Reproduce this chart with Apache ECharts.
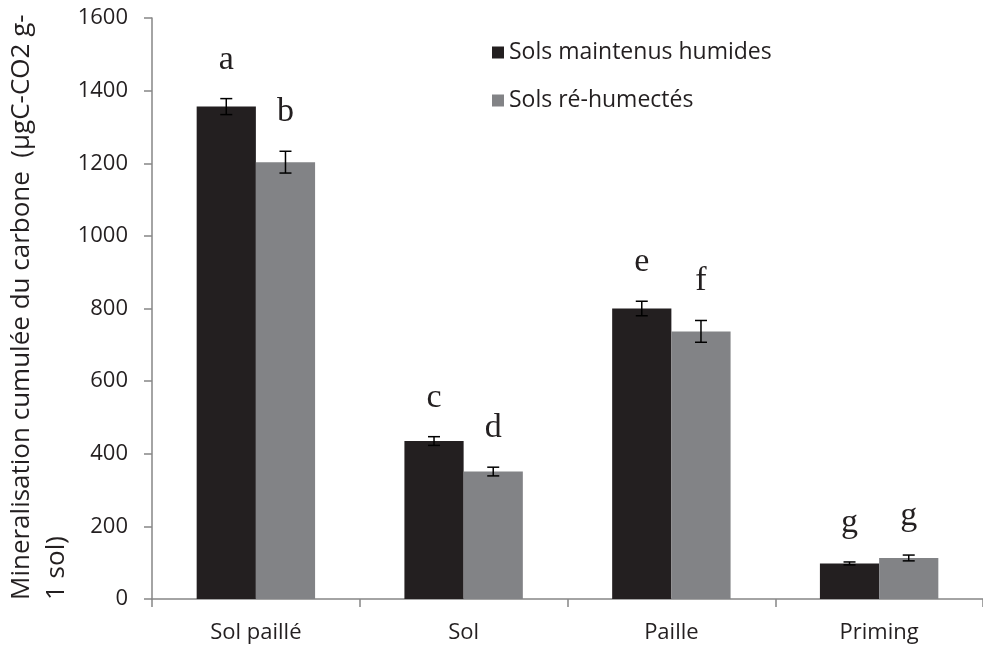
<!DOCTYPE html>
<html>
<head>
<meta charset="utf-8">
<script src="https://cdn.jsdelivr.net/npm/echarts@6/dist/echarts.min.js"></script>
<style>
  html, body { margin: 0; padding: 0; background: #fff; }
  #chart { width: 983px; height: 649px; }
</style>
</head>
<body>
<div id="chart"></div>
<script>
// données
const categories = ['Sol paillé', 'Sol', 'Paille', 'Priming'];
const humides = [1356, 435, 800, 98];
const humidesErr = [22, 12, 20, 4];
const humidesLettres = ['a', 'c', 'e', 'g'];
const rehumectes = [1203, 351, 737, 113];
const rehumectesErr = [30, 12, 30, 8];
const rehumectesLettres = ['b', 'd', 'f', 'g'];
const yTicks = [0, 200, 400, 600, 800, 1000, 1200, 1400, 1600];

const darkColor = '#231f20';
const greyColor = '#828386';
const axisColor = '#868686';
const textColor = '#231f20';
const sansFont = '"Open Sans", sans-serif';

const chart = echarts.init(document.getElementById('chart'));

// barres d'erreur + lettres de significativité
const errorSeries = (vals, errs, letters, side) => ({
  type: 'custom',
  silent: true,
  z: 10,
  data: vals.map((v, i) => [i, v - errs[i], v + errs[i], letters[i]]),
  encode: { x: 0, y: [1, 2] },
  renderItem: (params, api) => {
    const band = api.size([1, 0])[0];
    const offset = side * band * 0.57 / 4;
    const low = api.coord([api.value(0), api.value(1)]);
    const high = api.coord([api.value(0), api.value(2)]);
    const x = low[0] + offset;
    const cap = 6;
    const style = { stroke: '#000', lineWidth: 1.5 };
    return {
      type: 'group',
      children: [
        { type: 'line', shape: { x1: x, y1: low[1], x2: x, y2: high[1] }, style },
        { type: 'line', shape: { x1: x - cap, y1: low[1], x2: x + cap, y2: low[1] }, style },
        { type: 'line', shape: { x1: x - cap, y1: high[1], x2: x + cap, y2: high[1] }, style },
        {
          type: 'text',
          style: {
            x: x, y: high[1] - 22,
            text: api.value(3),
            fill: textColor,
            font: '34px "Liberation Serif", "Times New Roman", serif',
            align: 'center',
            verticalAlign: 'bottom'
          }
        }
      ]
    };
  }
});

const options = {
  animation: false,
  backgroundColor: '#fff',
  grid: { left: 152, right: -9, top: 18, bottom: 50 },
  legend: {
    data: ['Sols maintenus humides', 'Sols ré-humectés'],
    orient: 'vertical',
    left: 487,
    top: 36,
    itemWidth: 12,
    itemHeight: 12,
    itemGap: 25,
    icon: 'rect',
    textStyle: { fontFamily: sansFont, fontSize: 23, color: textColor, padding: [0, 0, 0, 0] }
  },
  xAxis: {
    type: 'category',
    data: categories,
    axisLine: { lineStyle: { color: axisColor, width: 1.5 } },
    axisTick: { show: true, length: 8, lineStyle: { color: axisColor, width: 1.5 } },
    axisLabel: { fontFamily: sansFont, fontSize: 22, color: textColor, margin: 23 }
  },
  yAxis: {
    type: 'value',
    min: 0,
    max: 1600,
    interval: 200,
    axisLine: { show: true, lineStyle: { color: axisColor, width: 1.5 } },
    axisTick: { show: true, length: 8, lineStyle: { color: axisColor, width: 1.5 } },
    splitLine: { show: false },
    axisLabel: {
      fontFamily: sansFont, fontSize: 22, color: textColor, margin: 24,
      formatter: v => yTicks.includes(v) ? String(v) : ''
    }
  },
  graphic: [
    {
      type: 'text',
      x: 22, y: 600,
      rotation: Math.PI / 2,
      style: {
        text: 'Mineralisation cumulée du carbone  (µgC-CO2 g-',
        font: '26px ' + sansFont,
        fill: textColor,
        align: 'left',
        verticalAlign: 'middle'
      }
    },
    {
      type: 'text',
      x: 57, y: 600,
      rotation: Math.PI / 2,
      style: {
        text: '1 sol)',
        font: '26px ' + sansFont,
        fill: textColor,
        align: 'left',
        verticalAlign: 'middle'
      }
    }
  ],
  series: [
    {
      name: 'Sols maintenus humides',
      type: 'bar',
      data: humides,
      barGap: 0,
      barCategoryGap: '43%',
      itemStyle: { color: darkColor }
    },
    {
      name: 'Sols ré-humectés',
      type: 'bar',
      data: rehumectes,
      barGap: 0,
      barCategoryGap: '43%',
      itemStyle: { color: greyColor }
    },
    errorSeries(humides, humidesErr, humidesLettres, -1),
    errorSeries(rehumectes, rehumectesErr, rehumectesLettres, 1)
  ]
};

chart.setOption(options);
</script>
</body>
</html>
